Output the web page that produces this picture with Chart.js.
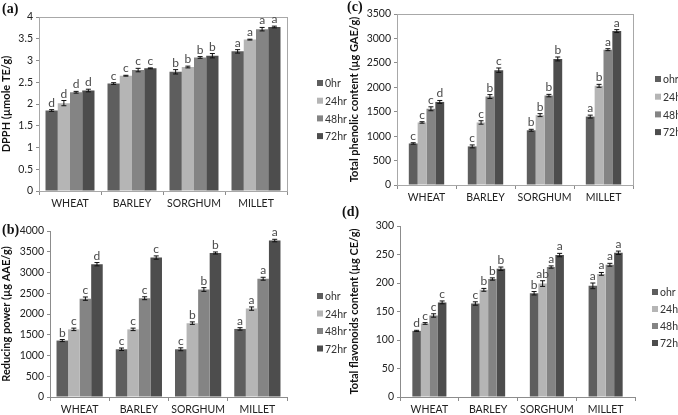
<!DOCTYPE html>
<html>
<head>
<meta charset="utf-8">
<script src="https://cdn.jsdelivr.net/npm/chart.js@4.4.1/dist/chart.umd.min.js"></script>
<style>
  body { margin: 0; background: #fff; }
  #wrap { position: relative; width: 678px; height: 415px; overflow: hidden; }
  .panel { position: absolute; }
  .tag { position: absolute; font: bold 14px "Liberation Serif", serif; color: #111; }
</style>
</head>
<body>
<div id="wrap">
  <div class="panel" style="left:0;top:0;width:350px;height:212px"><canvas id="chartA"></canvas></div>
  <div class="panel" style="left:0;top:212px;width:350px;height:203px"><canvas id="chartB"></canvas></div>
  <div class="panel" style="left:340px;top:0;width:338px;height:212px"><canvas id="chartC"></canvas></div>
  <div class="panel" style="left:340px;top:212px;width:338px;height:203px"><canvas id="chartD"></canvas></div>
  <div class="tag" style="left:2px;top:1px">(a)</div>
  <div class="tag" style="left:2px;top:222px">(b)</div>
  <div class="tag" style="left:347px;top:-1px">(c)</div>
  <div class="tag" style="left:342px;top:204px">(d)</div>
</div>
<script>
const categories = ['WHEAT', 'BARLEY', 'SORGHUM', 'MILLET'];
const seriesColors = ['#5e5e5e', '#b5b5b5', '#848484', '#4d4d4d'];

// (a) DPPH, rows = 0hr, 24hr, 48hr, 72hr
const dpphLabels = ['0hr', '24hr', '48hr', '72hr'];
const dpphValues = [
  [1.85, 2.47, 2.74, 3.21],
  [2.02, 2.65, 2.85, 3.48],
  [2.27, 2.78, 3.07, 3.72],
  [2.31, 2.82, 3.11, 3.77]
];
const dpphErrors = [
  [0.02, 0.02, 0.05, 0.04],
  [0.06, 0.01, 0.02, 0.01],
  [0.02, 0.04, 0.02, 0.04],
  [0.03, 0.01, 0.05, 0.02]
];
const dpphLetters = [
  ['d', 'c', 'b', 'a'],
  ['d', 'c', 'b', 'a'],
  ['d', 'c', 'b', 'a'],
  ['d', 'c', 'b', 'a']
];

// (b) reducing power
const reducingLabels = ['ohr', '24hr', '48hr', '72hr'];
const reducingValues = [
  [1360, 1150, 1150, 1640],
  [1630, 1630, 1780, 2130],
  [2370, 2380, 2590, 2850],
  [3200, 3360, 3470, 3770]
];
const reducingErrors = [
  [25, 30, 35, 30],
  [30, 30, 30, 40],
  [40, 35, 45, 35],
  [40, 40, 25, 30]
];
const reducingLetters = [
  ['b', 'c', 'c', 'a'],
  ['c', 'c', 'b', 'a'],
  ['c', 'c', 'b', 'a'],
  ['d', 'c', 'b', 'a']
];

// (c) total phenolic content
const phenolicLabels = ['ohr', '24hr', '48hr', '72hr'];
const phenolicValues = [
  [850, 790, 1120, 1400],
  [1280, 1280, 1430, 2030],
  [1560, 1810, 1830, 2770],
  [1700, 2350, 2580, 3150]
];
const phenolicErrors = [
  [15, 30, 20, 30],
  [15, 35, 30, 30],
  [40, 40, 25, 20],
  [30, 45, 40, 30]
];
const phenolicLetters = [
  ['c', 'c', 'b', 'a'],
  ['c', 'c', 'b', 'b'],
  ['c', 'b', 'b', 'a'],
  ['d', 'c', 'b', 'a']
];

// (d) total flavonoids content
const flavonoidLabels = ['ohr', '24hr', '48hr', '72hr'];
const flavonoidValues = [
  [116, 164, 182, 195],
  [129, 188, 199, 216],
  [143, 207, 228, 232],
  [166, 225, 249, 253]
];
const flavonoidErrors = [
  [1, 3, 3, 5],
  [1.5, 2.5, 5, 2.5],
  [3, 2, 2, 2.5],
  [2.5, 3, 3, 3]
];
const flavonoidLetters = [
  ['d', 'c', 'b', 'a'],
  ['c', 'b', 'ab', 'a'],
  ['c', 'b', 'a', 'a'],
  ['c', 'b', 'a', 'a']
];

const FONT = 'Lato, sans-serif';
const AXIS = '#8c8c8c';

// error bars + significance letters on top of each bar
const errorBars = {
  id: 'errorBars',
  afterDatasetsDraw(chart) {
    const ctx = chart.ctx;
    const y = chart.scales.y;
    ctx.save();
    chart.data.datasets.forEach((ds, i) => {
      chart.getDatasetMeta(i).data.forEach((bar, j) => {
        const v = ds.data[j], e = ds.errors[j];
        const top = y.getPixelForValue(v + e);
        const bot = y.getPixelForValue(v - e);
        ctx.strokeStyle = '#111';
        ctx.lineWidth = 1;
        ctx.beginPath();
        ctx.moveTo(bar.x, top); ctx.lineTo(bar.x, bot);
        ctx.moveTo(bar.x - 2.5, top); ctx.lineTo(bar.x + 2.5, top);
        ctx.moveTo(bar.x - 2.5, bot); ctx.lineTo(bar.x + 2.5, bot);
        ctx.stroke();
        ctx.fillStyle = '#4a4a4a';
        ctx.font = '12px ' + FONT;
        ctx.textAlign = 'center';
        ctx.textBaseline = 'alphabetic';
        ctx.fillText(ds.letters[j], bar.x, top - 3);
      });
    });
    ctx.restore();
  }
};

// legend at the right, Excel style
const sideLegend = {
  id: 'sideLegend',
  afterDraw(chart, args, opts) {
    const ctx = chart.ctx;
    ctx.save();
    ctx.font = '10.5px ' + FONT;
    ctx.textBaseline = 'middle';
    ctx.textAlign = 'left';
    chart.data.datasets.forEach((ds, i) => {
      const cy = opts.y + i * opts.gap;
      ctx.fillStyle = ds.backgroundColor;
      ctx.fillRect(opts.x, cy - 3, 6, 6);
      ctx.fillStyle = '#333';
      ctx.fillText(ds.label, opts.x + 8, cy + 1);
    });
    ctx.restore();
  }
};

const plotFrame = {
  id: 'plotFrame',
  beforeDatasetsDraw(chart, args, opts) {
    if (!opts.show) return;
    const a = chart.chartArea;
    const ctx = chart.ctx;
    ctx.save();
    ctx.strokeStyle = '#a8a8a8';
    ctx.lineWidth = 1;
    ctx.strokeRect(a.left + 0.5, a.top + 0.5, a.right - a.left, a.bottom - a.top);
    ctx.restore();
  }
};

function makeChart(id, cfg) {
  const datasets = cfg.values.map((row, i) => ({
    label: cfg.labels[i],
    data: row,
    errors: cfg.errors[i],
    letters: cfg.letters[i],
    backgroundColor: seriesColors[i],
    borderWidth: 0,
    barPercentage: 1,
    categoryPercentage: cfg.barFrac
  }));
  return new Chart(document.getElementById(id), {
    type: 'bar',
    data: { labels: categories, datasets: datasets },
    options: {
      responsive: true,
      maintainAspectRatio: false,
      animation: false,
      layout: { padding: { top: cfg.padTop, right: cfg.padRight, left: 0, bottom: 0 } },
      scales: {
        x: {
          afterFit: (s) => { s.height = cfg.xHeight; },
          grid: { drawOnChartArea: false, tickLength: 4, color: AXIS },
          border: { color: AXIS },
          ticks: {
            color: '#222', font: { family: FONT, size: 10.5 }, padding: 2,
            maxRotation: 0, minRotation: 0, autoSkip: false
          }
        },
        y: {
          min: 0,
          max: cfg.max,
          afterFit: (s) => { s.width = cfg.yWidth; },
          grid: { drawOnChartArea: false, tickLength: 3, color: AXIS },
          border: { color: AXIS },
          ticks: {
            stepSize: cfg.step,
            color: '#222',
            font: { family: FONT, size: 10.5 },
            padding: 3,
            callback: (v) => String(v)
          },
          title: {
            display: true,
            text: cfg.title,
            color: '#111',
            font: { family: FONT, size: 11, weight: 'bold' },
            padding: { top: cfg.titlePad, bottom: 0 }
          }
        }
      },
      plugins: {
        legend: { display: false },
        tooltip: { enabled: false },
        sideLegend: { x: cfg.legendX, y: cfg.legendY, gap: cfg.legendGap },
        plotFrame: { show: cfg.frame }
      }
    },
    plugins: [plotFrame, errorBars, sideLegend]
  });
}

makeChart('chartA', {
  labels: dpphLabels, values: dpphValues, errors: dpphErrors, letters: dpphLetters,
  title: 'DPPH (µmole TE/g)', max: 4, step: 0.5, barFrac: 0.79,
  padTop: 17, padRight: 63, xHeight: 21, yWidth: 39, titlePad: 0,
  legendX: 317, legendY: 83, legendGap: 17.7, frame: true
});
makeChart('chartB', {
  labels: reducingLabels, values: reducingValues, errors: reducingErrors, letters: reducingLetters,
  title: 'Reducing power (µg AAE/g)', max: 4000, step: 500, barFrac: 0.78,
  padTop: 19, padRight: 63, xHeight: 18, yWidth: 50, titlePad: 0,
  legendX: 317, legendY: 84, legendGap: 17.5, frame: false
});
makeChart('chartC', {
  labels: phenolicLabels, values: phenolicValues, errors: phenolicErrors, letters: phenolicLetters,
  title: 'Total phenolic content (µg GAE/g)', max: 3500, step: 500, barFrac: 0.6,
  padTop: 14, padRight: 45, xHeight: 27, yWidth: 57, titlePad: 8,
  legendX: 315, legendY: 79, legendGap: 17.7, frame: true
});
makeChart('chartD', {
  labels: flavonoidLabels, values: flavonoidValues, errors: flavonoidErrors, letters: flavonoidLetters,
  title: 'Total flavonoids content (µg CE/g)', max: 300, step: 50, barFrac: 0.58,
  padTop: 14, padRight: 43, xHeight: 18, yWidth: 60, titlePad: 8,
  legendX: 312, legendY: 80, legendGap: 17, frame: false
});
</script>
</body>
</html>
